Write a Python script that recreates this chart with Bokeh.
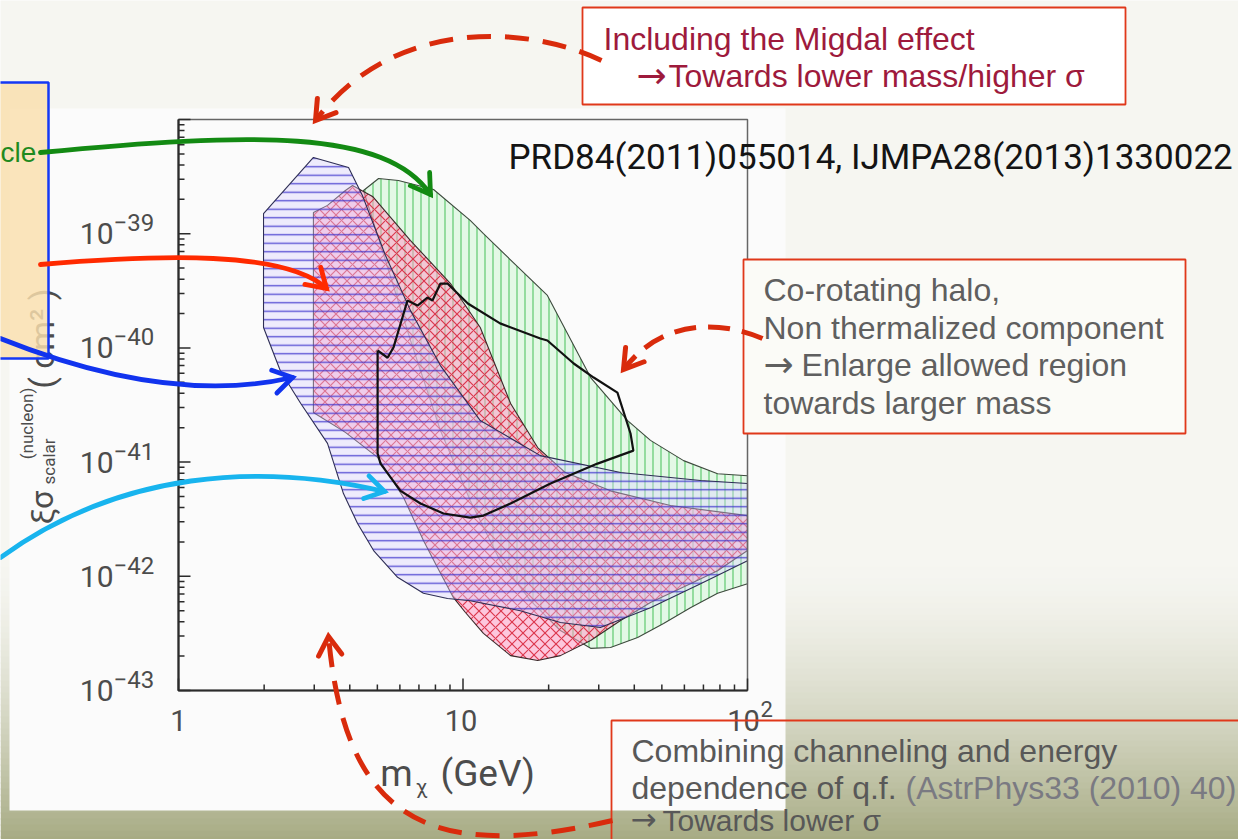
import math
from bokeh.plotting import figure
from bokeh.models import Range1d, LogScale
from bokeh.core.properties import value
from bokeh.embed import file_html
from bokeh.resources import INLINE

# ---------------- chart data ----------------
# m_chi in GeV, xi*sigma_scalar^(nucleon) in cm^2
BLUE_M = [1.99, 2.98, 3.96, 4.43, 5.34, 6.54, 8.33, 11.5, 18.7, 35.8, 68.4, 100,
          100, 68.4, 45.6, 30.4, 22.0, 15.9, 10.6, 8.82, 7.26, 5.89, 4.85, 4.26,
          3.80, 3.34, 2.69, 2.28, 1.99]
BLUE_S = [1.50e-39, 4.65e-39, 3.80e-39, 2.16e-39, 6.44e-40, 2.12e-40, 7.0e-41,
          2.31e-41, 1.14e-41, 8.1e-42, 6.9e-42, 6.5e-42,
          1.37e-42, 8.6e-43, 5.3e-43, 3.56e-43, 3.94e-43, 5.0e-43, 6.1e-43,
          6.4e-43, 7.1e-43, 9.8e-43, 1.68e-42, 2.90e-42, 5.3e-42, 1.46e-41,
          3.26e-41, 6.3e-41, 1.51e-40]

RED_M = [2.98, 3.34, 3.86, 4.09, 4.81, 6.54, 9.04, 11.5, 14.7, 18.3, 22.9, 33.0,
         53.6, 100, 100, 78.5, 63.0, 45.6, 35.8, 28.1, 22.0, 18.3, 14.7, 11.8,
         10.2, 9.26, 8.14, 7.26, 6.18, 5.01, 3.86, 2.98]
RED_S = [1.53e-39, 1.77e-39, 2.39e-39, 2.64e-39, 2.12e-39, 8.7e-40, 3.66e-40,
         1.51e-40, 3.26e-41, 1.34e-41, 8.1e-42, 5.6e-42, 4.17e-42, 3.40e-42,
         1.68e-42, 1.12e-42, 8.6e-43, 5.9e-43, 4.10e-43, 2.74e-43, 2.02e-43,
         1.83e-43, 2.02e-43, 3.16e-43, 4.82e-43, 6.5e-43, 1.19e-42, 2.06e-42,
         4.9e-42, 1.10e-41, 1.82e-41, 2.72e-41]

GREEN_M = [4.47, 5.05, 5.93, 7.88, 10.6, 11.8, 19.8, 28.1, 37.9, 45.6, 59.6, 78.5,
           100, 100, 78.5, 63.0, 50.7, 41.1, 33.0, 28.1, 22.0, 17.3, 13.5, 10.6,
           8.33, 6.54, 5.34]
GREEN_S = [2.39e-39, 3.04e-39, 2.92e-39, 2.44e-39, 1.31e-39, 1.00e-39, 2.88e-40,
           5.5e-41, 2.31e-41, 1.55e-41, 1.03e-41, 7.9e-42, 7.6e-42, 8.6e-43,
           7.1e-43, 5.3e-43, 3.86e-43, 2.91e-43, 2.38e-43, 2.34e-43, 3.35e-43,
           6.1e-43, 1.37e-42, 4.61e-42, 1.89e-41, 1.16e-40, 5.8e-40]

CONTOUR_M = [5.01, 5.43, 5.70, 6.38, 6.92, 7.50, 7.81, 8.33, 8.82, 10.4, 13.5,
             18.7, 19.8, 24.5, 28.8, 34.9, 38.8, 39.7, 29.7, 20.3, 14.7, 11.8,
             10.6, 8.54, 7.09, 6.03, 5.13, 5.01, 5.01]
CONTOUR_S = [9.5e-41, 8.2e-41, 1.01e-40, 2.60e-40, 2.35e-40, 2.76e-40, 2.60e-40,
             3.66e-40, 3.66e-40, 2.45e-40, 1.64e-40, 1.21e-40, 1.16e-40, 7.3e-41,
             5.5e-41, 4.06e-41, 1.78e-41, 1.26e-41, 9.7e-42, 6.5e-42, 4.34e-42,
             3.40e-42, 3.27e-42, 3.55e-42, 4.34e-42, 5.6e-42, 9.7e-42, 1.19e-41,
             9.5e-41]

X_MIN, X_MAX = 1, 100
Y_MIN, Y_MAX = 1e-43, 1e-38
X_MAJOR = [1, 10, 100]
X_MINOR = [2, 3, 4, 5, 6, 7, 8, 9, 20, 30, 40, 50, 60, 70, 80, 90]
X_LABEL_BASE = ["1", "10", "10"]
X_LABEL_EXP = ["", "", "2"]
Y_MAJOR = [1e-43, 1e-42, 1e-41, 1e-40, 1e-39, 1e-38]
Y_MINOR = [k * 10.0 ** e for e in range(-43, -38) for k in range(2, 10)]
Y_LABEL_VALUES = [1e-43, 1e-42, 1e-41, 1e-40, 1e-39]
Y_LABEL_EXP = ["\u221243", "\u221242", "\u221241", "\u221240", "\u221239"]

# ---------------- layout (page pixels) ----------------
W, H = 1238, 839
PX0, PY0 = 0, 0
PX1, PY1 = PX0 + W, PY0 + H
AX_L, AX_R, AX_T, AX_B = 178, 747, 119, 690
XDEC = (AX_R - AX_L) / math.log10(X_MAX / X_MIN)
YDEC = (AX_B - AX_T) / math.log10(Y_MAX / Y_MIN)

p = figure(width=W, height=H, x_range=Range1d(PX0, PX1), y_range=Range1d(PY1, PY0),
           output_backend="svg", toolbar_location=None, min_border=0,
           x_axis_location=None, y_axis_location=None)
p.grid.visible = False
p.outline_line_color = None
BG = (246, 246, 241)
p.background_fill_color = "#f6f6f1"
p.border_fill_color = "#f6f6f1"

p.extra_x_ranges = {"m": Range1d(X_MIN * 10 ** ((PX0 - AX_L) / XDEC),
                                 X_MIN * 10 ** ((PX1 - AX_L) / XDEC))}
p.extra_x_scales = {"m": LogScale()}
p.extra_y_ranges = {"s": Range1d(Y_MIN * 10 ** (-(PY1 - AX_B) / YDEC),
                                 Y_MIN * 10 ** ((AX_B - PY0) / YDEC))}
p.extra_y_scales = {"s": LogScale()}
LOG = dict(x_range_name="m", y_range_name="s")

# ---------------- slide background ----------------
OLIVE = (166, 170, 130)
gl, gr, gt, gb, gc = [], [], [], [], []
y = 560
while y < PY1:
    t = ((y - 560) / (PY1 - 560)) ** 1.5
    c = tuple(int(BG[i] + (OLIVE[i] - BG[i]) * t) for i in range(3))
    gl.append(PX0); gr.append(PX1); gt.append(y); gb.append(y + 7)
    gc.append("#%02x%02x%02x" % c)
    y += 6
p.quad(left=gl, right=gr, top=gt, bottom=gb, fill_color=gc, line_color=None)
# the pasted chart picture
p.quad(left=[9], right=[785], top=[108], bottom=[810], fill_color="#fbfbfb", line_color=None)

# ---------------- chart regions ----------------
p.patch(GREEN_M, GREEN_S, fill_color="#def7e2", fill_alpha=0.85,
        hatch_pattern="vertical_line", hatch_color="#5cc96c", hatch_scale=8,
        hatch_weight=1.3, hatch_alpha=0.9, line_color="#3d4a3d", line_width=1.1, **LOG)
p.patch(RED_M, RED_S, fill_color="#ff9cc4", fill_alpha=0.55,
        hatch_pattern="diagonal_cross", hatch_color="#d8283e", hatch_scale=11,
        hatch_weight=1.2, hatch_alpha=0.9, line_color="#3a2a2a", line_width=1.1, **LOG)
p.patch(BLUE_M, BLUE_S, fill_color="#dcd4ff", fill_alpha=0.4,
        hatch_pattern="horizontal_line", hatch_color="#3a30cc", hatch_scale=8.5,
        hatch_weight=1.4, hatch_alpha=0.8, line_color="#2e2e55", line_width=1.1, **LOG)
p.line(CONTOUR_M, CONTOUR_S, line_color="#111111", line_width=2.2, **LOG)

# ---------------- chart axes (drawn through the log scales) ----------------
def up(v, px):
    return v * 10 ** (px / YDEC)

def right(v, px):
    return v * 10 ** (px / XDEC)

p.quad(left=[X_MIN], right=[X_MAX], bottom=[Y_MIN], top=[Y_MAX], fill_color=None,
       line_color="#666666", line_width=1.5, **LOG)
p.line([X_MIN, X_MIN, X_MAX], [Y_MAX, Y_MIN, Y_MIN], line_color="#2b2b2b", line_width=2.2, **LOG)
p.segment(x0=X_MINOR, y0=[Y_MIN] * len(X_MINOR), x1=X_MINOR,
          y1=[up(Y_MIN, 6)] * len(X_MINOR), line_color="#2b2b2b", line_width=1.5, **LOG)
p.segment(x0=X_MAJOR, y0=[Y_MIN] * 3, x1=X_MAJOR, y1=[up(Y_MIN, 12)] * 3,
          line_color="#2b2b2b", line_width=1.5, **LOG)
p.segment(x0=[X_MIN] * len(Y_MINOR), y0=Y_MINOR, x1=[right(X_MIN, 6)] * len(Y_MINOR),
          y1=Y_MINOR, line_color="#2b2b2b", line_width=1.5, **LOG)
p.segment(x0=[X_MIN] * len(Y_MAJOR), y0=Y_MAJOR, x1=[right(X_MIN, 12)] * len(Y_MAJOR),
          y1=Y_MAJOR, line_color="#2b2b2b", line_width=1.5, **LOG)

TICK_FONT = value("Roboto")
TICK_COL = "#4c4c4c"
p.text(x=[X_MIN] * len(Y_LABEL_VALUES), y=Y_LABEL_VALUES, text=["10"] * len(Y_LABEL_VALUES),
       x_offset=-65, text_align="right", text_baseline="middle", text_font=TICK_FONT,
       text_font_size="30px", text_color=TICK_COL, **LOG)
p.text(x=[X_MIN] * len(Y_LABEL_VALUES), y=Y_LABEL_VALUES, text=Y_LABEL_EXP,
       x_offset=-65, y_offset=-11, text_align="left", text_baseline="middle",
       text_font=TICK_FONT, text_font_size="24px", text_color=TICK_COL, **LOG)
p.text(x=X_MAJOR, y=[Y_MIN] * 3, text=X_LABEL_BASE, x_offset=[0, -2, -4], y_offset=30,
       text_align="center", text_baseline="middle", text_font=TICK_FONT,
       text_font_size="29px", text_color=TICK_COL, **LOG)
p.text(x=[X_MAJOR[2]], y=[Y_MIN], text=[X_LABEL_EXP[2]], x_offset=13, y_offset=18,
       text_align="left", text_baseline="middle", text_font=TICK_FONT,
       text_font_size="22px", text_color=TICK_COL, **LOG)

# axis titles
p.text(x=[396], y=[773], text=["m"], text_align="center", text_baseline="middle",
       text_font=TICK_FONT, text_font_size="37px", text_color=TICK_COL)
p.text(x=[421], y=[786], text=["\u03c7"], text_align="center", text_baseline="middle",
       text_font=TICK_FONT, text_font_size="21px", text_color=TICK_COL)
p.text(x=[440], y=[773], text=["(GeV)"], text_align="left", text_baseline="middle",
       text_font=TICK_FONT, text_font_size="37px", text_color=TICK_COL)
A = math.pi / 2
p.text(x=[41], y=[507], text=["\u03be\u03c3"], angle=A, text_align="center",
       text_baseline="middle", text_font=TICK_FONT, text_font_size="32px", text_color=TICK_COL)
p.text(x=[26], y=[423], text=["(nucleon)"], angle=A, text_align="center",
       text_baseline="middle", text_font=TICK_FONT, text_font_size="17px", text_color=TICK_COL)
p.text(x=[48], y=[461], text=["scalar"], angle=A, text_align="center",
       text_baseline="middle", text_font=TICK_FONT, text_font_size="17px", text_color=TICK_COL)
p.text(x=[41], y=[338], text=["( cm\u00b2 )"], angle=A, text_align="center",
       text_baseline="middle", text_font=TICK_FONT, text_font_size="34px", text_color=TICK_COL)

# ---------------- slide decorations ----------------
ARIAL = value("Liberation Sans")
ARROWFONT = value("DejaVu Sans")
BOX_COL = "#e0381a"

# legend box on the left (cut by the slide edge)
p.quad(left=[-10], right=[48], top=[82], bottom=[358], fill_color="#f9dfae", fill_alpha=0.84,
       line_color="#1438f5", line_width=2.5)
p.text(x=[0], y=[152], text=["cle"], text_align="left", text_baseline="middle",
       text_font=ARIAL, text_font_size="28px", text_color="#1f8a1f")

p.text(x=[508], y=[157], text=["PRD84(2011)055014, IJMPA28(2013)1330022"],
       text_align="left", text_baseline="middle", text_font=value("Roboto"),
       text_font_size="35px", text_color="#141414")

# annotation boxes (under the dashed arrows, which run into them)
p.quad(left=[582], right=[1125], top=[7], bottom=[104], fill_color="#ffffff",
       line_color=BOX_COL, line_width=1.8)
p.quad(left=[743], right=[1185], top=[259], bottom=[433], fill_color="#fbfbf7",
       line_color=BOX_COL, line_width=1.8)
p.quad(left=[611], right=[1250], top=[720], bottom=[850], fill_color=None,
       line_color=BOX_COL, line_width=1.8)

def head(tip, toward, L, half_deg):
    dx, dy = tip[0] - toward[0], tip[1] - toward[1]
    n = math.hypot(dx, dy)
    ux, uy = dx / n, dy / n
    pts = []
    for s in (1, -1):
        a = math.radians(half_deg) * s
        rx = ux * math.cos(a) - uy * math.sin(a)
        ry = ux * math.sin(a) + uy * math.cos(a)
        pts.append((tip[0] - L * rx, tip[1] - L * ry))
    return [pts[0][0], tip[0], pts[1][0]], [pts[0][1], tip[1], pts[1][1]]

def curved_arrow(p0, c0, c1, p1, color, width, dash="solid", L=22, half=32):
    p.bezier(x0=[p0[0]], y0=[p0[1]], x1=[p1[0]], y1=[p1[1]], cx0=[c0[0]], cy0=[c0[1]],
             cx1=[c1[0]], cy1=[c1[1]], line_color=color, line_width=width,
             line_dash=dash, line_cap="butt" if dash != "solid" else "round")
    hx, hy = head(p1, c1, L, half)
    p.line(hx, hy, line_color=color, line_width=width, line_cap="round", line_join="miter")

# solid legend arrows
curved_arrow((40, 152), (250, 132), (385, 128), (430, 194), "#138a13", 4.8)
curved_arrow((40, 264), (160, 254), (285, 250), (326, 288), "#ff2a00", 4.8)
curved_arrow((0, 338), (100, 378), (200, 398), (292, 377), "#1133ee", 4.8)
curved_arrow((0, 557), (120, 470), (260, 462), (384, 491), "#18b4ee", 4.8)

# dashed annotation arrows
DASH_COL = "#d92b0c"
curved_arrow((601, 60), (520, 22), (390, 20), (315, 120), DASH_COL, 5, dash="24 14")
curved_arrow((762, 338), (720, 320), (662, 318), (623, 369), DASH_COL, 5, dash="22 12")
curved_arrow((612, 820), (430, 862), (345, 822), (328, 636), DASH_COL, 5, dash="24 14")

TXT = dict(text_font=ARIAL, text_font_size="32px", text_align="left", text_baseline="middle")
ARW = dict(text_font=ARROWFONT, text_font_size="36px", text_align="left", text_baseline="middle")
# Migdal box
p.text(x=[603], y=[38], text=["Including the Migdal effect"], text_color="#9e1a3c", **TXT)
p.text(x=[636], y=[75], text=["\u2192"], text_color="#9e1a3c", **ARW)
p.text(x=[668], y=[75], text=["Towards lower mass/higher \u03c3"], text_color="#9e1a3c", **TXT)
# co-rotating halo box
p.text(x=[763, 763, 801], y=[289, 327, 364],
       text=["Co-rotating halo,", "Non thermalized component", "Enlarge allowed region"],
       text_color="#5f5f5f", **TXT)
p.text(x=[763], y=[402], text=["towards larger mass"], text_color="#5f5f5f", **TXT)
p.text(x=[763], y=[364], text=["\u2192"], text_color="#5f5f5f", **ARW)
# channeling box
p.text(x=[631, 631], y=[750, 787],
       text=["Combining channeling and energy", "dependence of q.f."],
       text_color="#585858", **TXT)
p.text(x=[905], y=[787], text=["(AstrPhys33 (2010) 40)"], text_color="#7a7a82", **TXT)
p.text(x=[630], y=[818], text=["\u2192"], text_color="#585858",
       text_font=ARROWFONT, text_font_size="31px", text_align="left", text_baseline="middle")
p.text(x=[662], y=[820], text=["Towards lower \u03c3"], text_color="#585858",
       text_font=ARIAL, text_font_size="30px", text_align="left", text_baseline="middle")

open("out.html", "w").write(file_html(p, INLINE))
